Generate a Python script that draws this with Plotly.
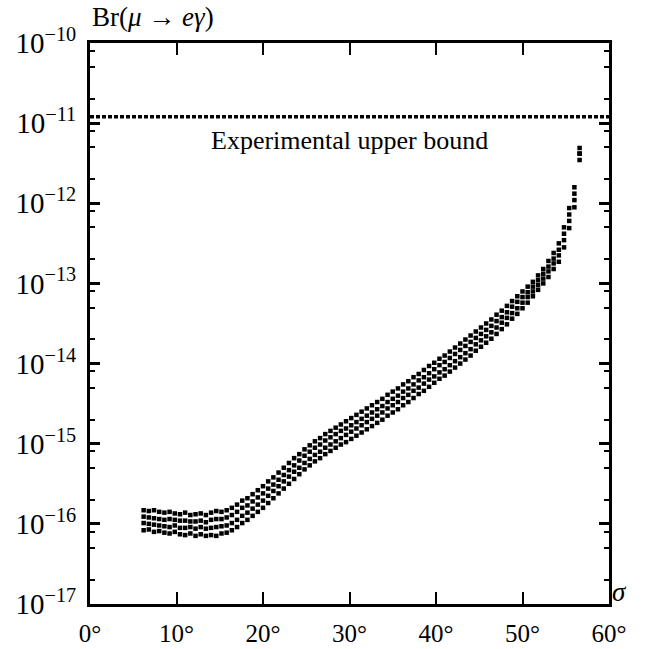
import plotly.graph_objects as go

# ---- data ----
sigma_deg = [6.2, 6.8, 7.4, 8.0, 8.6, 9.2, 9.8, 10.4, 11.0, 11.6, 12.2, 12.8, 13.4, 14.0,
             14.6, 15.2, 15.8, 16.4, 17.0, 17.6, 18.2, 18.8, 19.4, 20.0, 20.6, 21.2, 21.8,
             22.4, 23.0, 23.6, 24.2, 24.8, 25.4, 26.0, 26.6, 27.2, 27.8, 28.4, 29.0, 29.6,
             30.2, 30.8, 31.4, 32.0, 32.6, 33.2, 33.8, 34.4, 35.0, 35.6, 36.2, 36.8, 37.4,
             38.0, 38.6, 39.2, 39.8, 40.4, 41.0, 41.6, 42.2, 42.8, 43.4, 44.0, 44.6, 45.2,
             45.8, 46.4, 47.0, 47.6, 48.2, 48.8, 49.4, 50.0, 50.6, 51.2, 51.8, 52.4, 53.0,
             53.6, 54.2, 54.8, 55.4, 56.0, 56.6]

# log10(Br) of the four stacked points in each column
br_row1 = [-15.83, -15.84, -15.83, -15.85, -15.86, -15.85, -15.87, -15.88, -15.86, -15.89,
           -15.88, -15.87, -15.89, -15.86, -15.84, -15.85, -15.83, -15.80, -15.76, -15.71,
           -15.68, -15.63, -15.58, -15.53, -15.47, -15.42, -15.36, -15.30, -15.24, -15.18,
           -15.13, -15.07, -15.02, -14.97, -14.93, -14.88, -14.84, -14.80, -14.76, -14.72,
           -14.68, -14.64, -14.60, -14.56, -14.52, -14.48, -14.44, -14.39, -14.35, -14.31,
           -14.26, -14.22, -14.17, -14.13, -14.08, -14.03, -13.99, -13.94, -13.90, -13.85,
           -13.80, -13.75, -13.70, -13.65, -13.60, -13.55, -13.50, -13.45, -13.39, -13.34,
           -13.28, -13.22, -13.16, -13.10, -13.04, -12.98, -12.90, -12.82, -12.72, -12.62,
           -12.50, -12.30, -12.06, -11.80, -11.31]
br_row2 = [-15.91, -15.92, -15.93, -15.94, -15.95, -15.94, -15.95, -15.96, -15.96, -15.97,
           -15.97, -15.96, -15.98, -15.95, -15.94, -15.94, -15.92, -15.89, -15.85, -15.80,
           -15.77, -15.72, -15.67, -15.62, -15.56, -15.51, -15.45, -15.39, -15.33, -15.27,
           -15.21, -15.15, -15.10, -15.05, -15.01, -14.96, -14.92, -14.88, -14.84, -14.81,
           -14.77, -14.73, -14.69, -14.65, -14.61, -14.57, -14.53, -14.48, -14.44, -14.40,
           -14.35, -14.31, -14.26, -14.21, -14.17, -14.12, -14.07, -14.02, -13.98, -13.93,
           -13.88, -13.83, -13.78, -13.73, -13.68, -13.63, -13.58, -13.53, -13.47, -13.42,
           -13.36, -13.29, -13.23, -13.17, -13.11, -13.04, -12.96, -12.88, -12.79, -12.69,
           -12.58, -12.38, -12.14, -11.88, -11.38]
br_row3 = [-15.99, -16.00, -16.01, -16.02, -16.03, -16.04, -16.02, -16.05, -16.05, -16.04,
           -16.06, -16.04, -16.06, -16.05, -16.04, -16.03, -16.02, -15.99, -15.95, -15.90,
           -15.86, -15.81, -15.76, -15.71, -15.65, -15.59, -15.53, -15.47, -15.41, -15.35,
           -15.30, -15.24, -15.19, -15.14, -15.10, -15.05, -15.01, -14.97, -14.93, -14.89,
           -14.85, -14.81, -14.77, -14.73, -14.69, -14.65, -14.61, -14.56, -14.52, -14.48,
           -14.43, -14.39, -14.34, -14.30, -14.25, -14.20, -14.16, -14.11, -14.07, -14.02,
           -13.97, -13.92, -13.87, -13.82, -13.76, -13.71, -13.66, -13.61, -13.55, -13.49,
           -13.43, -13.37, -13.31, -13.24, -13.17, -13.10, -13.02, -12.94, -12.85, -12.75,
           -12.65, -12.46, -12.22, -11.96, -11.38]
br_row4 = [-16.08, -16.07, -16.10, -16.09, -16.11, -16.12, -16.10, -16.13, -16.14, -16.12,
           -16.15, -16.13, -16.15, -16.14, -16.15, -16.12, -16.11, -16.08, -16.04, -15.99,
           -15.95, -15.90, -15.85, -15.80, -15.74, -15.68, -15.62, -15.56, -15.50, -15.44,
           -15.38, -15.32, -15.27, -15.22, -15.18, -15.13, -15.09, -15.05, -15.01, -14.98,
           -14.94, -14.90, -14.86, -14.82, -14.78, -14.74, -14.70, -14.65, -14.61, -14.57,
           -14.52, -14.48, -14.43, -14.38, -14.34, -14.29, -14.24, -14.19, -14.15, -14.10,
           -14.05, -14.00, -13.95, -13.90, -13.84, -13.79, -13.74, -13.69, -13.63, -13.57,
           -13.51, -13.44, -13.38, -13.31, -13.24, -13.16, -13.08, -13.00, -12.92, -12.82,
           -12.73, -12.55, -12.31, -12.05, -11.46]

bound_value = 1.2e-11
bound_label = "Experimental upper bound"

x_ticks = [0, 10, 20, 30, 40, 50, 60]
x_ticktext = [f"{v}°" for v in x_ticks]
y_exps = [-17, -16, -15, -14, -13, -12, -11, -10]
y_minor_mult = [2, 5, 8]

# ---- figure ----
xs, ys = [], []
for row in (br_row1, br_row2, br_row3, br_row4):
    xs.extend(sigma_deg)
    ys.extend([10 ** e for e in row])

FONT = "Liberation Serif"

fig = go.Figure()
fig.add_trace(go.Scatter(
    x=xs, y=ys, mode="markers",
    marker=dict(symbol="square", size=4.5, color="black", line=dict(width=0)),
    showlegend=False, hoverinfo="skip"))
fig.add_trace(go.Scatter(
    x=[x_ticks[0], x_ticks[-1]], y=[bound_value, bound_value], mode="lines",
    line=dict(color="black", width=3.5, dash="4px,2px"),
    showlegend=False, hoverinfo="skip"))

minor_vals = [m * 10 ** e for e in y_exps[:-1] for m in y_minor_mult]

fig.update_layout(
    width=652, height=649,
    margin=dict(l=90, r=43, t=43, b=45, autoexpand=False),
    paper_bgcolor="white", plot_bgcolor="white",
    font=dict(family=FONT, size=24, color="black"),
    xaxis=dict(range=[0, 60], tickmode="array", tickvals=x_ticks, ticktext=x_ticktext,
               ticks="inside", ticklen=12, tickwidth=2, tickcolor="black",
               showline=True, linewidth=3, linecolor="black", mirror="ticks",
               showgrid=False, zeroline=False, tickfont=dict(size=25),
               ticklabelstandoff=5, automargin=False),
    yaxis=dict(type="log", range=[-17, -10], tickmode="array",
               tickvals=[10 ** e for e in y_exps],
               ticktext=[f"10<sup>−{abs(e)}</sup>" for e in y_exps],
               ticks="inside", ticklen=10, tickwidth=3, tickcolor="black",
               showline=True, linewidth=3, linecolor="black", mirror="ticks",
               showgrid=False, zeroline=False, tickfont=dict(size=29),
               ticklabelstandoff=5, automargin=False,
               minor=dict(tickmode="array", tickvals=minor_vals, ticks="inside",
                          ticklen=5, tickwidth=2, tickcolor="black", showgrid=False)),
)

fig.add_annotation(text="Br(<i>μ</i> → <i>eγ</i>)", xref="paper", yref="paper",
                   x=0, y=1, xanchor="left", yanchor="bottom", yshift=9,
                   showarrow=False, font=dict(size=27, family=FONT))
fig.add_annotation(text="<i>σ</i>", xref="paper", yref="paper",
                   x=1, y=0, xanchor="left", yanchor="middle", xshift=1, yshift=12,
                   showarrow=False, font=dict(size=27, family=FONT))
fig.add_annotation(text=bound_label, x=30, y=-11.22, xref="x", yref="y",
                   xanchor="center", yanchor="middle", showarrow=False,
                   font=dict(size=26, family=FONT))

fig.write_html("out.html",
               config={"displayModeBar": False},
               post_script="document.body.style.margin='0px';")
